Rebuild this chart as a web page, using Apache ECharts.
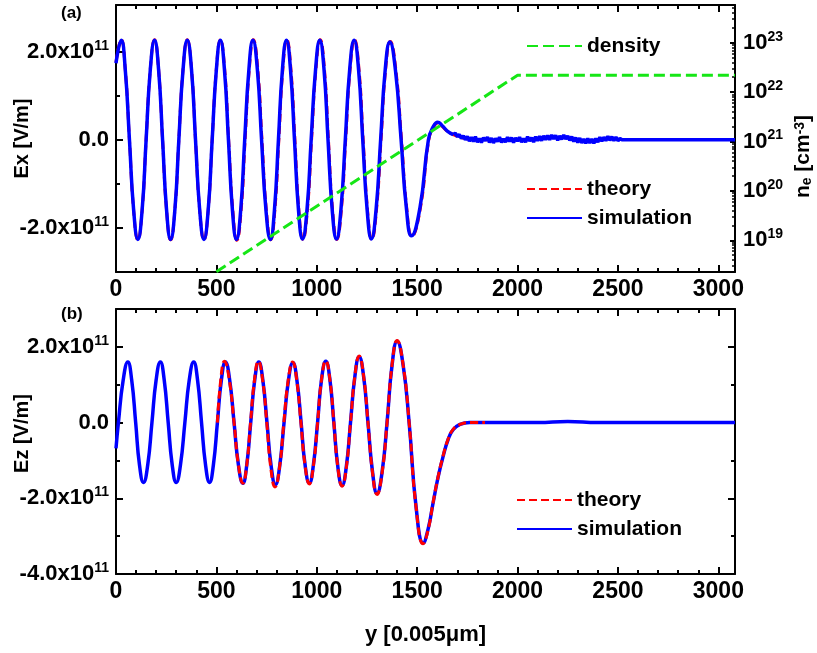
<!DOCTYPE html>
<html><head><meta charset="utf-8">
<script src="https://cdn.jsdelivr.net/npm/echarts@6/dist/echarts.min.js"></script>
<style>html,body{margin:0;padding:0;background:#fff}#c{width:817px;height:653px}</style>
</head><body><div id="c"></div>
<script>
const FONT = "'Liberation Sans', Arial, Helvetica, sans-serif";

// ---- axis ranges & tick labels ----
const X_MIN = 0, X_MAX = 3083;
const xMajorTicks = [0, 500, 1000, 1500, 2000, 2500, 3000];
const xMinorTicks = [100,200,300,400,600,700,800,900,1100,1200,1300,1400,1600,1700,1800,1900,2100,2200,2300,2400,2600,2700,2800,2900];
const exRange = [-3.0, 3.06];            // units of 1e11 V/m
const exMajorTicks = [-2, 0, 2];
const exMinorTicks = [-1, 1];
const ezRange = [-4.0, 3.0];            // units of 1e11 V/m
const ezMajorTicks = [-4, -2, 0, 2];
const ezMinorTicks = [-3, -1, 1];
const densityRange = [2.28e18, 5.8e23];
const densityMajorTicks = [1e19, 1e20, 1e21, 1e22, 1e23];

// ---- data: panel (a) Ex [1e11 V/m] ----
const exSimulation = [
 [0,1.74],[26,2.26],[46,1.6],[67,0],[88,-1.6],[109,-2.26],[130,-1.6],[150,0],[171,1.6],[192,2.26],
 [212,1.6],[232,0],[252,-1.6],[272,-2.26],[293,-1.6],[313,0],[334,1.6],[355,2.26],[376,1.6],[396,0],
 [417,-1.6],[438,-2.26],[459,-1.6],[479,0],[500,1.6],[520,2.26],[540,1.6],[560,0],[580,-1.6],[600,-2.26],
 [621,-1.6],[641,0],[662,1.6],[682,2.26],[704,1.6],[725,0],[747,-1.6],[769,-2.26],[789,-1.6],[809,0],
 [829,1.6],[849,2.26],[869,1.6],[889,0],[909,-1.6],[929,-2.25],[951,-1.6],[972,0],[994,1.6],[1015,2.26],
 [1036,1.6],[1056,0],[1077,-1.6],[1098,-2.25],[1120,-1.6],[1142,0],[1164,1.6],[1186,2.26],[1208,1.6],
 [1229,0],[1251,-1.6],[1272,-2.25],[1295,-1.6],[1318,0],[1341,1.6],[1364,2.22],[1392,1.57],[1420,0],
 [1446,-1.54],[1472,-2.18],[1514,-1.54],[1556,0],[1580,0.3],[1602,0.40],[1625,0.32],[1650,0.2],[1680,0.12]
];
const exSimulationNoise = [
 [1680,0.12],[1690,0.15],[1700,0.07],[1710,0.12],[1720,0.03],[1730,0.09],[1740,0.0],[1750,0.08],
 [1760,-0.03],[1770,0.06],[1780,-0.04],[1790,0.07],[1800,-0.05],[1810,0.03],[1820,-0.06],[1830,0.05],
 [1840,-0.02],[1850,0.06],[1860,-0.06],[1870,0.04],[1880,-0.07],[1890,0.03],[1900,-0.04],[1910,0.06],
 [1920,-0.06],[1930,0.02],[1940,-0.05],[1950,0.06],[1960,-0.04],[1970,0.05],[1980,-0.06],[1990,0.04],
 [2000,-0.03],[2010,0.06],[2020,-0.05],[2030,0.03],[2040,-0.05],[2050,0.07],[2060,-0.03],[2070,0.05],
 [2080,-0.05],[2090,0.07],[2100,-0.02],[2110,0.08],[2120,-0.02],[2130,0.09],[2140,0.0],[2150,0.1],
 [2160,0.0],[2170,0.11],[2180,0.02],[2190,0.1],[2200,-0.01],[2210,0.09],[2220,0.01],[2230,0.11],
 [2240,0.02],[2250,0.09],[2260,-0.01],[2270,0.07],[2280,-0.04],[2290,0.05],[2300,-0.06],[2310,0.04],
 [2320,-0.07],[2330,0.02],[2340,-0.08],[2350,0.03],[2360,-0.07],[2370,0.02],[2380,-0.08],[2390,0.03],
 [2400,-0.05],[2410,0.06],[2420,-0.03],[2430,0.06],[2440,-0.02],[2450,0.08],[2460,-0.01],[2470,0.07],
 [2480,-0.02],[2490,0.06],[2500,-0.02],[2510,0.03],[2520,0.0],[3083,0.0]
];
const exTheory = [
 [0,1.76],[26,2.27],[46,1.61],[67,0],[88,-1.61],[109,-2.27],[130,-1.61],[150,0],[171,1.61],[192,2.27],
 [212,1.61],[232,0],[252,-1.61],[272,-2.27],[293,-1.61],[313,0],[334,1.61],[355,2.27],[376,1.61],[396,0],
 [417,-1.61],[438,-2.27],[459,-1.61],[479,0],[500,1.61],[520,2.27],[541,1.61],[561,0],[582,-1.61],[602,-2.28],
 [623,-1.61],[643,0],[664,1.61],[684,2.27],[706,1.61],[727,0],[749,-1.61],[771,-2.27],[791,-1.61],[811,0],
 [831,1.61],[851,2.27],[871,1.61],[891,0],[911,-1.61],[931,-2.26],[953,-1.61],[974,0],[996,1.61],[1017,2.27],
 [1038,1.61],[1058,0],[1079,-1.61],[1100,-2.26],[1122,-1.61],[1144,0],[1166,1.61],[1188,2.27],[1210,1.61],
 [1231,0],[1253,-1.61],[1274,-2.26],[1297,-1.61],[1320,0],[1343,1.61],[1366,2.23],[1394,1.58],[1422,0],
 [1448,-1.55],[1474,-2.19],[1516,-1.55],[1558,0],[1582,0.29],[1603,0.38],[1626,0.3],[1650,0.2],[1700,0.08],
 [1760,0.02],[1850,0]
];
// ---- data: electron density [cm^-3] ----
const density = [[500, 2.3e18], [2000, 2.2e22], [3083, 2.2e22]];

// ---- data: panel (b) Ez [1e11 V/m] ----
const ezSimulation = [
 [0,-0.68],[12,0],[36,1.13],[59,1.6],[78,1.13],[98,0],[117,-1.12],[137,-1.58],[158,-1.12],[179,0],
 [200,1.13],[221,1.6],[240,1.13],[260,0],[280,-1.12],[300,-1.58],[321,-1.12],[343,0],[365,1.13],[387,1.6],
 [406,1.13],[426,0],[446,-1.12],[466,-1.58],[485,-1.12],[505,0],[525,1.13],[545,1.6],[566,1.13],[588,0],
 [610,-1.13],[632,-1.6],[651,-1.13],[671,0],[691,1.13],[711,1.6],[731,1.13],[752,0],[773,-1.16],[794,-1.64],
 [815,-1.16],[837,0],[859,1.12],[881,1.58],[901,1.12],[922,0],[942,-1.13],[963,-1.6],[983,-1.13],[1004,0],
 [1024,1.15],[1045,1.62],[1065,1.15],[1085,0],[1105,-1.17],[1126,-1.66],[1147,-1.17],[1168,0],[1190,1.23],
 [1211,1.74],[1233,1.23],[1255,0],[1278,-1.32],[1300,-1.87],[1325,-1.32],[1350,0],[1375,1.52],[1400,2.15],
 [1430,1.52],[1460,0],[1495,-2.25],[1530,-3.18],[1555,-2.8],[1579,-2.13],[1604,-1.45],[1629,-0.9],
 [1654,-0.45],[1679,-0.19],[1713,-0.05],[1762,0],[1850,0],[2100,0],[2250,0.03],[2400,0],[3083,0]
];
const ezTheory = [
 [505,0],[522,1.14],[540,1.62],[564,1.14],[588,0],[610,-1.13],[632,-1.6],[651,-1.13],[670,0],[690,1.14],
 [709,1.62],[730,1.14],[751,0],[771,-1.2],[792,-1.7],[814,-1.2],[836,0],[858,1.13],[880,1.6],[900,1.13],
 [921,0],[942,-1.15],[963,-1.62],[983,-1.15],[1004,0],[1024,1.15],[1045,1.63],[1065,1.15],[1085,0],
 [1105,-1.19],[1126,-1.68],[1147,-1.19],[1168,0],[1190,1.24],[1211,1.76],[1233,1.24],[1255,0],[1278,-1.34],
 [1300,-1.9],[1325,-1.34],[1350,0],[1375,1.53],[1400,2.17],[1430,1.53],[1460,0],[1495,-2.26],[1530,-3.2],
 [1555,-2.82],[1579,-2.12],[1604,-1.44],[1629,-0.88],[1654,-0.44],[1679,-0.18],[1713,-0.05],[1762,0],[1838,0]
];

// log-axis minor tick positions (2..9 x 10^n inside the range)
const densityMinorTicks = [];
for (let e = 18; e <= 23; e++) for (let k = 2; k <= 9; k++) {
  const v = k * Math.pow(10, e);
  if (v > densityRange[0] && v < densityRange[1]) densityMinorTicks.push(v);
}

const AXL = {color:'#000', width:2};
const TK = {color:'#000', width:2};
const TXT = {fontFamily:FONT, fontWeight:'bold', color:'#000'};
const SUP = {fontFamily:FONT, fontWeight:'bold', color:'#000', fontSize:14, verticalAlign:'top', lineHeight:14};
const SUB = {fontFamily:FONT, fontWeight:'bold', color:'#000', fontSize:14, verticalAlign:'bottom', lineHeight:14};

function fieldLabel(v){
  if (Math.abs(v) < 1e-9) return '0.0';
  return (v < 0 ? '-' : '') + Math.abs(v).toFixed(1) + 'x10{sup|11}';
}
function logLabel(v){ return '10{sup|' + Math.round(Math.log10(v)) + '}'; }
function plainLabel(v){ return String(v); }

function xAxes(g, name){
  const c = {gridIndex:g, type:'value', min:X_MIN, max:X_MAX, splitLine:{show:false}};
  const major = {...c, position:'bottom',
    axisLine:{show:true, onZero:false, lineStyle:AXL},
    axisTick:{show:true, inside:true, length:7, lineStyle:TK, customValues:xMajorTicks},
    axisLabel:{show:true, customValues:xMajorTicks, formatter:plainLabel, margin:6, fontSize:23, ...TXT}};
  if (name) Object.assign(major, {name:name, nameLocation:'middle', nameGap:50, nameMoveOverlap:false,
    nameTextStyle:{fontSize:22, ...TXT}});
  return [
    major,
    {...c, position:'bottom', axisLine:{show:false, onZero:false},
      axisTick:{show:true, inside:true, length:4, lineStyle:TK, customValues:xMinorTicks}, axisLabel:{show:false}},
    {...c, position:'top', axisLine:{show:true, onZero:false, lineStyle:AXL},
      axisTick:{show:true, inside:true, length:7, lineStyle:TK, customValues:xMajorTicks}, axisLabel:{show:false}},
    {...c, position:'top', axisLine:{show:false, onZero:false},
      axisTick:{show:true, inside:true, length:4, lineStyle:TK, customValues:xMinorTicks}, axisLabel:{show:false}}
  ];
}

const yAxis = [
  {gridIndex:0, type:'value', position:'left', min:exRange[0], max:exRange[1], splitLine:{show:false},
   axisLine:{show:true, onZero:false, lineStyle:AXL},
   axisTick:{show:true, inside:true, length:7, lineStyle:TK, customValues:exMajorTicks},
   axisLabel:{customValues:exMajorTicks, formatter:fieldLabel, margin:7, fontSize:22, lineHeight:26, ...TXT, rich:{sup:SUP}},
   name:'Ex [V/m]', nameLocation:'middle', nameGap:84, nameMoveOverlap:false, nameTextStyle:{fontSize:20, ...TXT}},
  {gridIndex:0, type:'value', position:'left', min:exRange[0], max:exRange[1], splitLine:{show:false},
   axisLine:{show:false, onZero:false},
   axisTick:{show:true, inside:true, length:4, lineStyle:TK, customValues:exMinorTicks}, axisLabel:{show:false}},
  {gridIndex:0, type:'log', position:'right', min:densityRange[0], max:densityRange[1], splitLine:{show:false},
   axisLine:{show:true, onZero:false, lineStyle:AXL},
   axisTick:{show:true, inside:true, length:5, lineStyle:TK, customValues:densityMajorTicks},
   axisLabel:{customValues:densityMajorTicks, formatter:logLabel, margin:8, fontSize:22, lineHeight:26, ...TXT, rich:{sup:SUP}},
   name:'n{sub|e} [cm{sup|-3}]', nameLocation:'middle', nameGap:58, nameMoveOverlap:false,
   nameTextStyle:{fontSize:21, ...TXT, padding:[0,36,0,0], rich:{sup:SUP, sub:SUB}}},
  {gridIndex:0, type:'log', position:'right', min:densityRange[0], max:densityRange[1], splitLine:{show:false},
   axisLine:{show:false, onZero:false},
   axisTick:{show:true, inside:true, length:3, lineStyle:{color:'#000', width:1.5}, customValues:densityMinorTicks}, axisLabel:{show:false}},
  {gridIndex:1, type:'value', position:'left', min:ezRange[0], max:ezRange[1], splitLine:{show:false},
   axisLine:{show:true, onZero:false, lineStyle:AXL},
   axisTick:{show:true, inside:true, length:7, lineStyle:TK, customValues:ezMajorTicks},
   axisLabel:{customValues:ezMajorTicks, formatter:fieldLabel, margin:7, fontSize:22, lineHeight:26, ...TXT, rich:{sup:SUP}},
   name:'Ez [V/m]', nameLocation:'middle', nameGap:84, nameMoveOverlap:false, nameTextStyle:{fontSize:20, ...TXT, padding:[0,0,0,16]}},
  {gridIndex:1, type:'value', position:'left', min:ezRange[0], max:ezRange[1], splitLine:{show:false},
   axisLine:{show:false, onZero:false},
   axisTick:{show:true, inside:true, length:4, lineStyle:TK, customValues:ezMinorTicks}, axisLabel:{show:false}},
  {gridIndex:1, type:'value', position:'right', min:ezRange[0], max:ezRange[1], splitLine:{show:false},
   axisLine:{show:true, onZero:false, lineStyle:AXL},
   axisTick:{show:true, inside:true, length:7, lineStyle:TK, customValues:ezMajorTicks}, axisLabel:{show:false}},
  {gridIndex:1, type:'value', position:'right', min:ezRange[0], max:ezRange[1], splitLine:{show:false},
   axisLine:{show:false, onZero:false},
   axisTick:{show:true, inside:true, length:4, lineStyle:TK, customValues:ezMinorTicks}, axisLabel:{show:false}}
];

const RED = '#ff0000', BLUE = '#0000ff', GREEN = '#16e616';
const legendText = {fontSize:21, lineHeight:22, ...TXT};
const legendBase = {orient:'vertical', padding:0, itemWidth:55, itemHeight:14, itemGap:7, selectedMode:false,
  textStyle:legendText, itemStyle:{opacity:0}};

const option = {
  animation:false,
  backgroundColor:'#fff',
  title:[
    {text:'(a)', left:61, top:5, padding:0, textStyle:{fontSize:17, ...TXT}},
    {text:'(b)', left:61, top:306, padding:0, textStyle:{fontSize:17, ...TXT}}
  ],
  grid:[
    {left:116, top:5, width:619, height:267, containLabel:false, outerBoundsMode:'none'},
    {left:116, top:309, width:619, height:265, containLabel:false, outerBoundsMode:'none'}
  ],
  legend:[
    {...legendBase, data:['density'], left:526, top:35},
    {...legendBase, data:['theory','simulation'], left:526, top:178},
    {...legendBase, data:['theory','simulation'], left:516, top:489}
  ],
  xAxis:[...xAxes(0, null), ...xAxes(1, 'y [0.005μm]')],
  yAxis:yAxis,
  series:[
    {name:'theory', type:'line', xAxisIndex:0, yAxisIndex:0, data:exTheory, smooth:0.5, symbol:'none',
     lineStyle:{color:RED, width:3, type:[8,4]}, itemStyle:{color:RED}, z:2},
    {name:'simulation', type:'line', xAxisIndex:0, yAxisIndex:0, data:exSimulation, smooth:0.5, symbol:'none',
     lineStyle:{color:BLUE, width:3.5}, itemStyle:{color:BLUE}, z:3},
    {name:'simulation', type:'line', xAxisIndex:0, yAxisIndex:0, data:exSimulationNoise, symbol:'none',
     lineStyle:{color:BLUE, width:3.5}, itemStyle:{color:BLUE}, z:3},
    {name:'density', type:'line', xAxisIndex:0, yAxisIndex:2, data:density, symbol:'none',
     lineStyle:{color:GREEN, width:3, type:[11,5]}, itemStyle:{color:GREEN}, z:4},
    {name:'simulation', type:'line', xAxisIndex:4, yAxisIndex:4, data:ezSimulation, smooth:0.5, symbol:'none',
     lineStyle:{color:BLUE, width:3.5}, itemStyle:{color:BLUE}, z:2},
    {name:'theory', type:'line', xAxisIndex:4, yAxisIndex:4, data:ezTheory, smooth:0.5, symbol:'none',
     lineStyle:{color:RED, width:3, type:[8,4]}, itemStyle:{color:RED}, z:3}
  ]
};
const chart = echarts.init(document.getElementById('c'), null, {renderer:'canvas'});
chart.setOption(option);
</script></body></html>
